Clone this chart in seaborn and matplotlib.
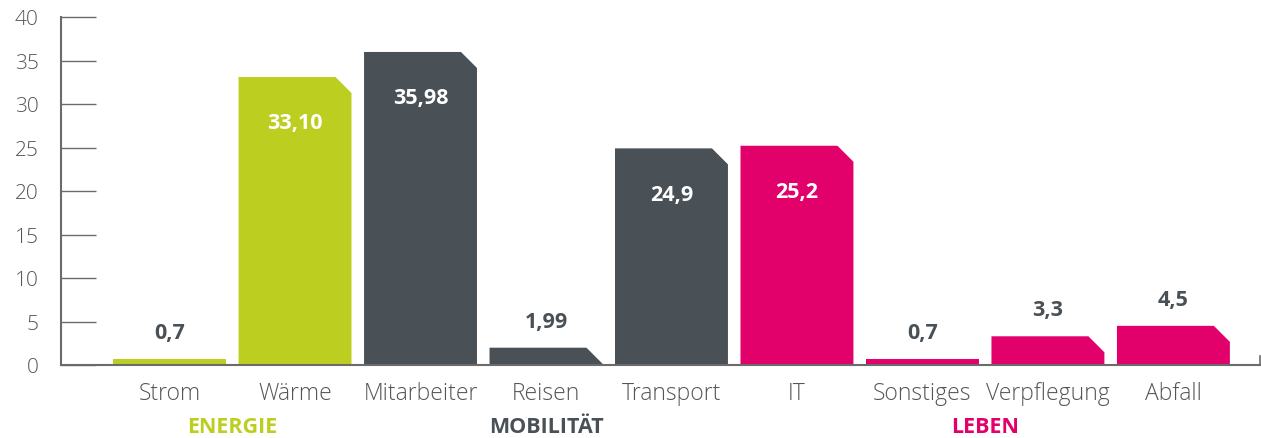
import matplotlib
matplotlib.use("Agg")
import matplotlib.pyplot as plt
import matplotlib.transforms as mtransforms
from matplotlib.patches import Polygon
import seaborn as sns
import pandas as pd

# === Data ===
categories = ["Strom", "Wärme", "Mitarbeiter", "Reisen", "Transport",
              "IT", "Sonstiges", "Verpflegung", "Abfall"]
values = [0.7, 33.10, 35.98, 1.99, 24.9, 25.2, 0.7, 3.3, 4.5]
value_labels = ["0,7", "33,10", "35,98", "1,99", "24,9", "25,2", "0,7", "3,3", "4,5"]
groups = ["ENERGIE", "ENERGIE", "MOBILITÄT", "MOBILITÄT", "MOBILITÄT",
          "LEBEN", "LEBEN", "LEBEN", "LEBEN"]
group_names = ["ENERGIE", "MOBILITÄT", "LEBEN"]
y_ticks = [0, 5, 10, 15, 20, 25, 30, 35, 40]

group_colors = {"ENERGIE": "#bccf21", "MOBILITÄT": "#495056", "LEBEN": "#e2006a"}
text_dark = "#495056"
axis_grey = "#6b6b6b"
label_grey = "#555555"

df = pd.DataFrame({"category": categories, "value": values, "group": groups})

# === Figure ===
sns.set_theme(style="white")
plt.rcParams["font.family"] = ["Open Sans", "DejaVu Sans"]

W, H = 1261, 439
fig = plt.figure(figsize=(W / 100, H / 100), dpi=100)
ax = fig.add_axes([61 / W, (H - 366) / H, (1260 - 61) / W, (366 - 18) / H])

sns.barplot(data=df, x="category", y="value", hue="category",
            palette=[group_colors[g] for g in groups], width=0.9,
            legend=False, ax=ax, saturation=1)

ax.set_xlim(-0.865, 8.69)
ax.set_ylim(0, 40)
ax.set_yticks(y_ticks)
ax.set_xlabel("")
ax.set_ylabel("")

# chamfered top-right corner (~16 px)
inv = ax.transData.inverted()
p0 = inv.transform((0, 0))
p1 = inv.transform((16, 16))
dx, dy = p1[0] - p0[0], p1[1] - p0[1]
for bar in list(ax.patches):
    x0, w, h = bar.get_x(), bar.get_width(), bar.get_height()
    col = bar.get_facecolor()
    bar.remove()
    if h > dy:
        pts = [(x0, 0), (x0, h), (x0 + w - dx, h), (x0 + w, h - dy), (x0 + w, 0)]
    else:
        pts = [(x0, 0), (x0, h), (x0 + w, h), (x0 + w, 0)]
    ax.add_patch(Polygon(pts, closed=True, facecolor=col, edgecolor="none", zorder=2))

# value labels
for i, (v, lab) in enumerate(zip(values, value_labels)):
    if v > 10:
        ax.annotate(lab, (i, v), xytext=(0, -33), textcoords="offset points",
                    ha="center", va="center", color="white",
                    fontsize=15.5, fontweight="bold")
    else:
        ax.annotate(lab, (i, v), xytext=(0, 19), textcoords="offset points",
                    ha="center", va="center", color=text_dark,
                    fontsize=15.5, fontweight="bold")

# group labels
trans = mtransforms.blended_transform_factory(ax.transData, ax.transAxes)
for g in group_names:
    idx = [i for i, gg in enumerate(groups) if gg == g]
    xc = sum(idx) / len(idx)
    ax.text(xc, -0.178, g, transform=trans, ha="center", va="center",
            color=group_colors[g], fontsize=15.5, fontweight="bold")

# axes styling
ax.spines["top"].set_visible(False)
ax.spines["left"].set_color(axis_grey)
ax.spines["left"].set_linewidth(1.5)
ax.spines["bottom"].set_color(axis_grey)
ax.spines["bottom"].set_linewidth(1.5)
ax.spines["right"].set_color(axis_grey)
ax.spines["right"].set_linewidth(1.2)
ax.spines["right"].set_bounds(0, 1)

ax.tick_params(axis="y", left=True, direction="in", length=25, width=1,
               color=axis_grey, pad=16, labelsize=15, labelcolor=label_grey)
ax.tick_params(axis="x", bottom=False, length=0, pad=11.5, labelsize=16.5,
               labelcolor=label_grey)
for t in ax.get_yticklabels() + ax.get_xticklabels():
    t.set_fontweight("light")

fig.savefig("out.png", dpi=100)
